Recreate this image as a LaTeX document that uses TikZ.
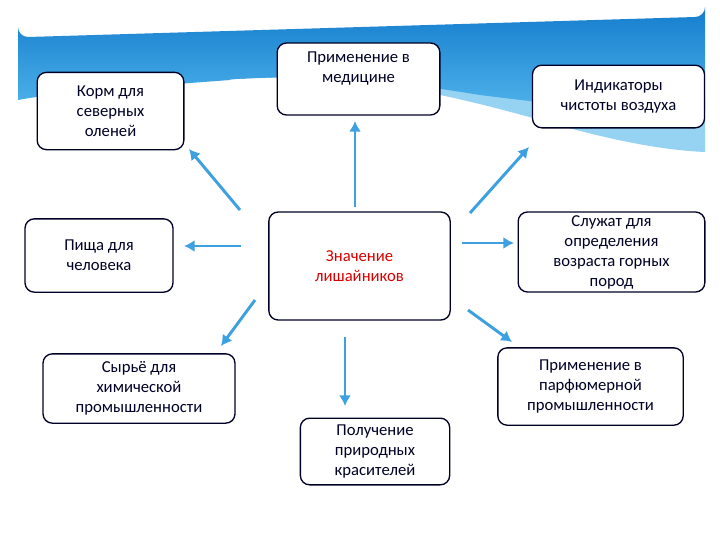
\documentclass[tikz,border=0pt]{standalone}
\usepackage{fontspec}
\setmainfont{Carlito}
\usetikzlibrary{arrows.meta}
\definecolor{lightwave}{RGB}{150,210,242}
\definecolor{bantop}{RGB}{20,125,205}
\definecolor{banbot}{RGB}{80,180,235}
\definecolor{arrowblue}{RGB}{60,160,225}
\begin{document}
\begin{tikzpicture}[x=0.75pt,y=-0.75pt,
  box/.style={draw=black!85!blue,line width=1pt,rounded corners=7pt,fill=white,align=center,text=black!85!blue,font=\fontsize{12.5}{15}\selectfont,inner sep=0pt},
  arr/.style={draw=arrowblue,line width=2.2pt,-{Latex[length=8pt,width=9pt]}}]
\useasboundingbox (0,0) rectangle (720,540);
\fill[white] (0,0) rectangle (720,540);
% banner
\fill[lightwave] (230,80) .. controls (350,70) and (450,95) .. (540,120) .. controls (610,140) and (660,150) .. (705,152) -- (705,100) -- (300,70) -- cycle;
\shade[top color=bantop,bottom color=banbot]
  (18,27) arc[start angle=180,end angle=90,radius=10] -- (695,17) arc[start angle=90,end angle=0,radius=10]
  -- (705,110) .. controls (620,112) and (560,105) .. (480,95) .. controls (400,82) and (320,72) .. (230,80) .. controls (150,86) and (60,92) .. (18,100) -- cycle;
\draw[white,line width=0.6pt] (230,80) .. controls (350,72) and (450,100) .. (532,120);
\draw[white,line width=0.6pt] (440,102) .. controls (480,106) and (510,114) .. (532,120);
\draw[white,line width=0.6pt] (440,150) .. controls (480,128) and (500,122) .. (532,118);
\draw[white,line width=0.6pt] (620,85) .. controls (650,80) and (680,78) .. (705,77);
% boxes
\node[box,minimum width=110pt,minimum height=58pt] (A) at (110.5,111) {Корм для\\северных\\оленей};
\node[box,minimum width=122pt,minimum height=54pt,text depth=18pt] (B) at (358.5,79) {Применение в\\медицине};
\node[box,minimum width=129pt,minimum height=47pt] (C) at (618.5,96.5) {Индикаторы\\чистоты воздуха};
\node[box,minimum width=111pt,minimum height=55pt] (D) at (99,255.5) {Пища для\\человека};
\node[box,minimum width=136pt,minimum height=81pt,text=red!85!black] (E) at (359.5,266) {Значение\\лишайников};
\node[box,minimum width=140pt,minimum height=60pt] (F) at (611.5,252) {Служат для\\определения\\возраста горных\\пород};
\node[box,minimum width=144pt,minimum height=52pt] (G) at (139,388.5) {Сырьё для\\химической\\промышленности};
\node[box,minimum width=112pt,minimum height=50pt] (H) at (375,451.5) {Получение\\природных\\красителей};
\node[box,minimum width=139pt,minimum height=58pt] (I) at (590.5,386.5) {Применение в\\парфюмерной\\промышленности};
% arrow ends
\coordinate (eA) at (240,210); \coordinate (tA) at (189,149);
\coordinate (eB) at (355,207); \coordinate (tB) at (355,121);
\coordinate (eC) at (470,213); \coordinate (tC) at (529,147);
\coordinate (eD) at (241,246); \coordinate (tD) at (184,246);
\coordinate (eF) at (462,243); \coordinate (tF) at (514,243);
\coordinate (eG) at (255,300); \coordinate (tG) at (221,346);
\coordinate (eH) at (345,337); \coordinate (tH) at (345,406);
\coordinate (eI) at (468,310); \coordinate (tI) at (512,342);
\foreach \s/\t in {eA/tA,eB/tB,eC/tC,eD/tD,eF/tF,eG/tG,eH/tH,eI/tI}
  \draw[arr] (\s) -- (\t);
\end{tikzpicture}
\end{document}
